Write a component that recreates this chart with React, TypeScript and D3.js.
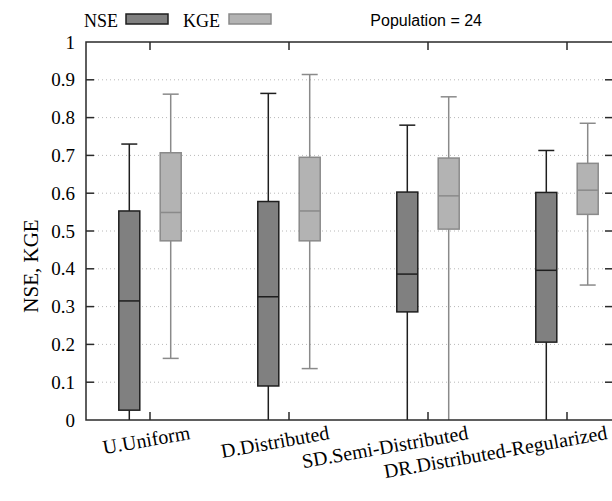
import * as d3 from 'd3';

// Box-plot summaries: [min, q1, median, q3, max]
const CATEGORIES = ['U.Uniform', 'D.Distributed', 'SD.Semi-Distributed', 'DR.Distributed-Regularized'];
const NSE_STATS = [
  [0.0, 0.026, 0.315, 0.553, 0.730],
  [0.0, 0.090, 0.326, 0.578, 0.864],
  [0.0, 0.286, 0.386, 0.603, 0.780],
  [0.0, 0.206, 0.396, 0.602, 0.713],
];
const KGE_STATS = [
  [0.163, 0.474, 0.549, 0.707, 0.862],
  [0.136, 0.474, 0.553, 0.695, 0.914],
  [0.0, 0.505, 0.593, 0.693, 0.855],
  [0.357, 0.544, 0.608, 0.679, 0.785],
];
const Y_TICKS = [0, 0.1, 0.2, 0.3, 0.4, 0.5, 0.6, 0.7, 0.8, 0.9, 1];
const POPULATION = 24;

const W = 612;
const H = 501;
const PLOT = { left: 86, right: 613, top: 42, bottom: 420 };
const BOX_W = 21;
const CAP_W = 16;
const OFFSET = 20.7;
const SERIF = '"Liberation Serif", "Times New Roman", serif';
const SANS = '"Liberation Sans", Arial, sans-serif';

const SERIES = [
  { name: 'NSE', stats: NSE_STATS, fill: '#808080', stroke: '#1e1e1e', dx: -OFFSET },
  { name: 'KGE', stats: KGE_STATS, fill: '#b3b3b3', stroke: '#8a8a8a', dx: OFFSET },
];

export default function App() {
  const x = d3.scaleLinear().domain([1, 4]).range([150, 567]);
  const y = d3.scaleLinear().domain([0, 1]).range([PLOT.bottom, PLOT.top]);

  return (
    <svg width={W} height={H} style={{ position: 'absolute', left: 0, top: 0, background: '#fff' }}>
      {/* grid */}
      {Y_TICKS.filter(t => t > 0 && t < 1).map(t => (
        <line key={'g' + t} x1={PLOT.left + 8} x2={PLOT.right - 8} y1={y(t)} y2={y(t)}
          stroke="#b8b8b8" strokeWidth={1} strokeDasharray="1,3" />
      ))}

      {/* boxes */}
      {SERIES.map(s => s.stats.map((st, i) => {
        const cx = x(i + 1) + s.dx;
        const [mn, q1, md, q3, mx] = st;
        return (
          <g key={s.name + i}>
            <line x1={cx} x2={cx} y1={y(q3)} y2={y(mx)} stroke={s.stroke} strokeWidth={1.5} />
            <line x1={cx} x2={cx} y1={y(q1)} y2={y(mn)} stroke={s.stroke} strokeWidth={1.5} />
            <line x1={cx - CAP_W / 2} x2={cx + CAP_W / 2} y1={y(mx)} y2={y(mx)} stroke={s.stroke} strokeWidth={1.5} />
            {mn > 0 && (
              <line x1={cx - CAP_W / 2} x2={cx + CAP_W / 2} y1={y(mn)} y2={y(mn)} stroke={s.stroke} strokeWidth={1.5} />
            )}
            <rect x={cx - BOX_W / 2} y={y(q3)} width={BOX_W} height={y(q1) - y(q3)}
              fill={s.fill} stroke={s.stroke} strokeWidth={1.5} />
            <line x1={cx - BOX_W / 2} x2={cx + BOX_W / 2} y1={y(md)} y2={y(md)} stroke={s.stroke} strokeWidth={1.5} />
          </g>
        );
      }))}

      {/* frame */}
      <rect x={PLOT.left} y={PLOT.top} width={PLOT.right - PLOT.left} height={PLOT.bottom - PLOT.top}
        fill="none" stroke="#2a2a2a" strokeWidth={1.5} />

      {/* y ticks */}
      {Y_TICKS.map(t => (
        <g key={'y' + t}>
          {t > 0 && t < 1 && (
            <>
              <line x1={PLOT.left} x2={PLOT.left + 8} y1={y(t)} y2={y(t)} stroke="#2a2a2a" strokeWidth={1.5} />
              <line x1={PLOT.right - 8} x2={PLOT.right} y1={y(t)} y2={y(t)} stroke="#2a2a2a" strokeWidth={1.5} />
            </>
          )}
          <text x={75} y={y(t)} dy="0.35em" textAnchor="end" fontFamily={SERIF} fontSize={19} fill="#000">
            {t === 0 || t === 1 ? String(t) : t.toFixed(1)}
          </text>
        </g>
      ))}

      {/* x ticks and labels */}
      {CATEGORIES.map((c, i) => (
        <g key={c}>
          <line x1={x(i + 1)} x2={x(i + 1)} y1={PLOT.top} y2={PLOT.top + 8} stroke="#2a2a2a" strokeWidth={1.5} />
          <line x1={x(i + 1)} x2={x(i + 1)} y1={PLOT.bottom} y2={PLOT.bottom - 8} stroke="#2a2a2a" strokeWidth={1.5} />
          <text transform={`translate(${x(i + 1) + 41},${439}) rotate(-10)`} textAnchor="end"
            fontFamily={SERIF} fontSize={20} fill="#000">{c}</text>
        </g>
      ))}

      {/* y title */}
      <text transform={`translate(38,266) rotate(-90)`} textAnchor="middle" fontFamily={SERIF} fontSize={21} fill="#000">
        NSE, KGE
      </text>

      {/* legend */}
      <text x={118} y={27} textAnchor="end" fontFamily={SERIF} fontSize={18}>NSE</text>
      <rect x={126} y={14} width={42} height={10} fill={SERIES[0].fill} stroke={SERIES[0].stroke} strokeWidth={1.5} />
      <text x={220} y={27} textAnchor="end" fontFamily={SERIF} fontSize={18}>KGE</text>
      <rect x={229} y={14} width={42} height={10} fill={SERIES[1].fill} stroke={SERIES[1].stroke} strokeWidth={1.5} />
      <text x={482} y={26} textAnchor="end" fontFamily={SANS} fontSize={16}>{`Population = ${POPULATION}`}</text>
    </svg>
  );
}
